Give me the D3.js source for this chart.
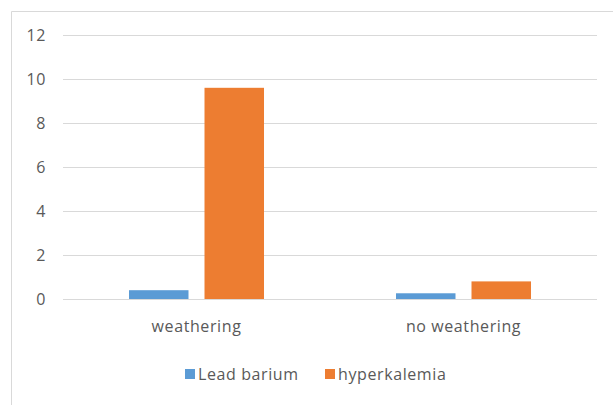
<!DOCTYPE html>
<html>
<head>
<meta charset="utf-8">
<script src="https://cdn.jsdelivr.net/npm/d3@7"></script>
<style>
  html, body { margin: 0; padding: 0; background: #fff; }
  svg { display: block; }
  text { font-family: "Open Sans", "Liberation Sans", sans-serif; fill: #595959; letter-spacing: 0.6px; }
</style>
</head>
<body>
<svg id="chart" width="613" height="405"></svg>
<script>
// Data
const categories = ["weathering", "no weathering"];
const seriesNames = ["Lead barium", "hyperkalemia"];
const leadBarium = [0.4, 0.26];
const hyperkalemia = [9.6, 0.8];
const yTicks = [0, 2, 4, 6, 8, 10, 12];
const colors = ["#5b9bd5", "#ed7d31"];

const seriesValues = [leadBarium, hyperkalemia];
const rows = categories.map((c, i) => ({
  category: c,
  values: seriesNames.map((s, j) => ({ series: s, value: seriesValues[j][i] }))
}));

const svg = d3.select("#chart");

// Chart frame
svg.append("path")
  .attr("d", "M11.5,405 V11.5 H613")
  .attr("fill", "none")
  .attr("stroke", "#d9d9d9")
  .attr("stroke-width", 1);

const plot = { left: 63, right: 597, top: 35, bottom: 299 };

const y = d3.scaleLinear().domain([0, 12]).range([plot.bottom, plot.top]);
const x0 = d3.scaleBand().domain(categories).range([plot.left, plot.right]).padding(0);
const x1 = d3.scaleBand().domain(seriesNames).range([0, x0.bandwidth()])
  .paddingInner(0.212).paddingOuter(0.874);

// Gridlines
svg.append("g")
  .selectAll("line")
  .data(yTicks)
  .join("line")
  .attr("x1", plot.left)
  .attr("x2", plot.right)
  .attr("y1", d => Math.round(y(d)) + 0.5)
  .attr("y2", d => Math.round(y(d)) + 0.5)
  .attr("stroke", "#d9d9d9")
  .attr("stroke-width", 1);

// Y axis labels
const yAxis = d3.axisLeft(y).tickValues(yTicks).tickSize(0).tickPadding(0);
svg.append("g")
  .attr("transform", `translate(${46},0)`)
  .call(yAxis)
  .call(g => g.select(".domain").remove())
  .call(g => g.selectAll("text")
    .style("font-size", "16px")
    .attr("fill", "#595959")
    .attr("dy", "0.35em"));

// Bars
svg.append("g")
  .selectAll("g")
  .data(rows)
  .join("g")
  .attr("transform", d => `translate(${x0(d.category)},0)`)
  .selectAll("rect")
  .data(d => d.values)
  .join("rect")
  .attr("x", d => x1(d.series))
  .attr("width", x1.bandwidth())
  .attr("y", d => y(d.value))
  .attr("height", d => y(0) - y(d.value))
  .attr("fill", (d, i) => colors[i]);

// Baseline
svg.append("line")
  .attr("x1", plot.left).attr("x2", plot.right)
  .attr("y1", plot.bottom + 0.5).attr("y2", plot.bottom + 0.5)
  .attr("stroke", "#d9d9d9");

// X axis labels
const xAxis = d3.axisBottom(x0).tickSize(0).tickPadding(0);
svg.append("g")
  .attr("transform", `translate(0,${plot.bottom})`)
  .call(xAxis)
  .call(g => g.select(".domain").remove())
  .call(g => g.selectAll("text")
    .style("font-size", "16px")
    .attr("fill", "#595959")
    .attr("dy", null)
    .attr("y", 33));

// Legend
const legendItems = [
  { name: seriesNames[0], color: colors[0], x: 185 },
  { name: seriesNames[1], color: colors[1], x: 325 }
];
const legend = svg.append("g");
const li = legend.selectAll("g").data(legendItems).join("g")
  .attr("transform", d => `translate(${d.x},369)`);
li.append("rect").attr("width", 10).attr("height", 10).attr("fill", d => d.color);
li.append("text").attr("x", 13).attr("y", 10.5).style("font-size", "16px").text(d => d.name);
</script>
</body>
</html>
